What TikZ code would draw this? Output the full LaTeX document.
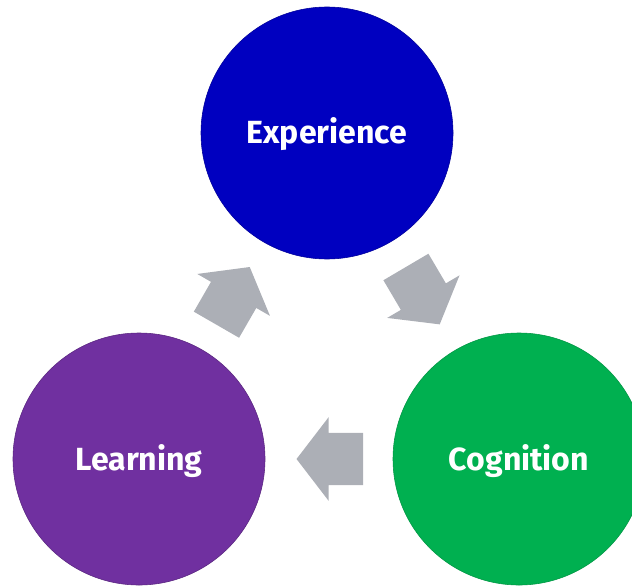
\documentclass[tikz,border=0pt]{standalone}
\usepackage{fontspec}
\setmainfont{Fira Sans}
\usetikzlibrary{shapes.arrows}
\definecolor{expblue}{RGB}{0,0,192}
\definecolor{learnpurple}{RGB}{112,48,160}
\definecolor{coggreen}{RGB}{0,176,80}
\definecolor{arrowgray}{RGB}{172,175,182}
\begin{document}
\begin{tikzpicture}[
    stage/.style={circle, minimum size=6.3cm, inner sep=0pt, text=white,
      text height=0.55cm, text depth=0pt,
      font=\fontsize{22.8}{27}\selectfont\bfseries},
    turn/.style={single arrow, fill=arrowgray, inner xsep=0pt, inner ysep=0.646cm,
      minimum height=1.665cm,
      single arrow head extend=0.396cm, single arrow tip angle=105,
      anchor=tail, pos=0.23, sloped, allow upside down}]
    \useasboundingbox (0,0) rectangle (15.8,14.625);

    \node[stage, fill=expblue, draw=expblue!80!black] (exp) at (8.175,11.3) {Experience};
    \node[stage, fill=learnpurple, draw=learnpurple!80!black] (learn) at (3.475,3.15) {Learning};
    \node[stage, fill=coggreen, draw=coggreen!85!black] (cog) at (12.975,3.15) {Cognition};

    \path (exp) -- node[turn] (a1) {} (cog);
    \path (cog) -- node[turn] (a2) {} (learn);
    \path (learn) -- node[turn] (a3) {} (exp);
\end{tikzpicture}
\end{document}
